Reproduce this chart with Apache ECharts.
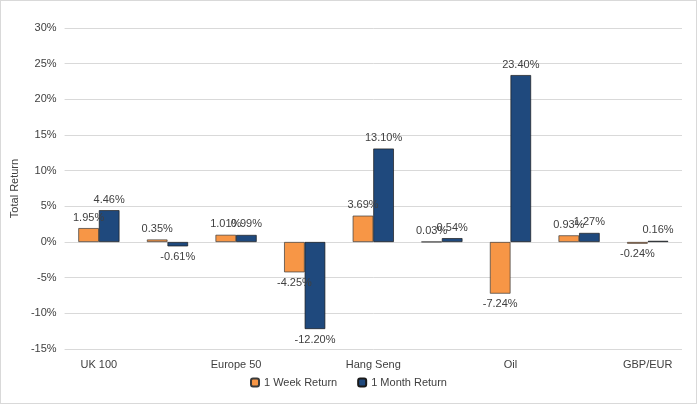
<!DOCTYPE html>
<html><head><meta charset="utf-8">
<script src="https://cdn.jsdelivr.net/npm/echarts@6/dist/echarts.min.js"></script>
<style>html,body{margin:0;padding:0;background:#fff}#c{width:695px;height:402px;border:1px solid #d9d9d9}</style>
</head><body><div id="c"></div>
<script>
const categories=['UK 100','US 500','Europe 50','Japan 225','Hang Seng','Gold','Oil','GBP/USD','GBP/EUR'];
const weekReturn=[1.95,0.35,1.01,-4.25,3.69,0.03,-7.24,0.93,-0.24];
const monthReturn=[4.46,-0.61,0.99,-12.20,13.10,0.54,23.40,1.27,0.16];
const yTicks={min:-15,max:30,interval:5};
function items(arr){return arr.map(v=>({value:v,label:{position:v<0?'bottom':'top'}}));}
const font={fontFamily:'Liberation Sans, Arial',fontSize:11,color:'#404040'};
const chart=echarts.init(document.getElementById('c'));
chart.setOption({
 animation:false,
 grid:{left:52,right:14,top:27,bottom:54},
 legend:{bottom:10,itemWidth:8,itemHeight:8,itemGap:20,textStyle:font,data:['1 Week Return','1 Month Return']},
 xAxis:{type:'category',data:categories,axisLine:{onZero:false,show:false},axisTick:{show:false},axisLabel:Object.assign({},font,{margin:10})},
 yAxis:{type:'value',min:yTicks.min,max:yTicks.max,interval:yTicks.interval,name:'Total Return',nameLocation:'middle',nameGap:36,nameTextStyle:font,
  axisLabel:Object.assign({},font,{formatter:'{value}%'}),splitLine:{lineStyle:{color:'#d9d9d9'}}},
 series:[
  {name:'1 Week Return',type:'bar',data:items(weekReturn),barGap:'0%',barCategoryGap:'40%',
   itemStyle:{color:'#F79646',borderColor:'#3a3a3a',borderWidth:0.7},
   label:Object.assign({show:true,formatter:p=>p.value.toFixed(2)+'%'},font)},
  {name:'1 Month Return',type:'bar',data:items(monthReturn),
   itemStyle:{color:'#1F497D',borderColor:'#1a1a1a',borderWidth:0.7},
   label:Object.assign({show:true,formatter:p=>p.value.toFixed(2)+'%'},font)}
 ]
});
</script></body></html>
